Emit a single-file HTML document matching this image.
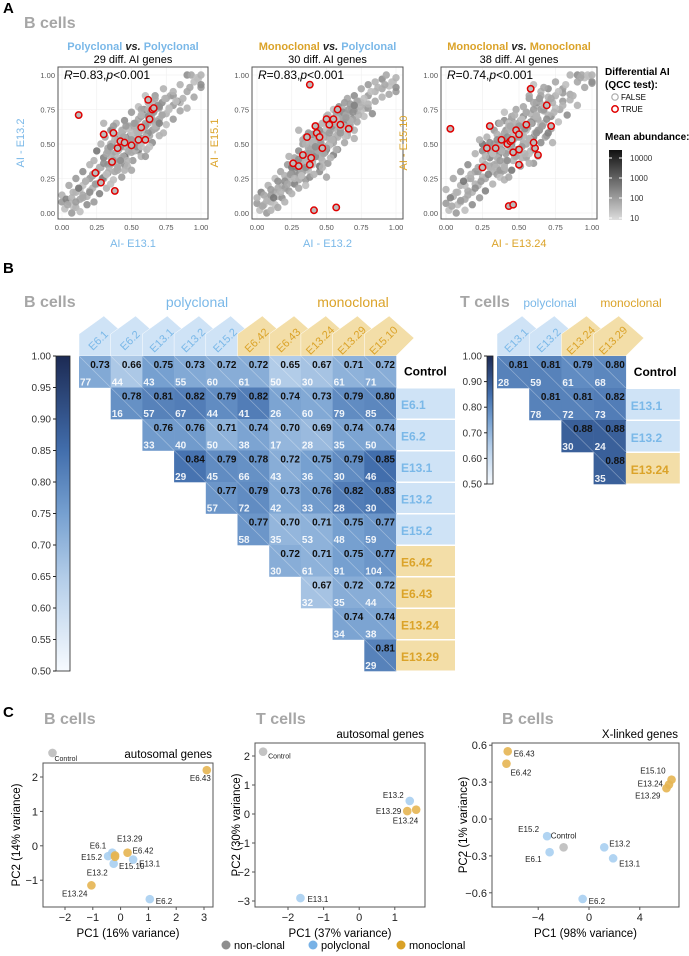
<!DOCTYPE html>
<html><head><meta charset="utf-8"><style>
body{margin:0;background:#fff;}
svg{display:block;font-family:"Liberation Sans",Arial,sans-serif;}
</style></head><body>
<svg id="fig" width="689" height="956" viewBox="0 0 689 956"></svg>
<script>
// ---------- DATA ----------
const scatterX = [0.02,0.05,0.08,0.1,0.13,0.15,0.18,0.2,0.22,0.25,0.27,0.3,0.32,0.33,0.35,0.36,0.38,0.4,0.41,0.42,0.44,0.45,0.46,0.48,0.5,0.5,0.52,0.53,0.55,0.56,0.58,0.6,0.6,0.62,0.64,0.65,0.67,0.7,0.72,0.75,0.78,0.8,0.85,0.9,0.95,0.98,0.35,0.45,0.55,0.65,0.28,0.38,0.48,0.58,0.68,0.42,0.52,0.62,0.3,0.4];
const scatterY1 = [0.03,0.08,0.05,0.15,0.1,0.2,0.12,0.25,0.18,0.3,0.22,0.4,0.28,0.45,0.35,0.5,0.3,0.45,0.55,0.38,0.6,0.48,0.42,0.55,0.5,0.62,0.45,0.58,0.68,0.5,0.6,0.55,0.72,0.65,0.7,0.6,0.75,0.68,0.8,0.72,0.85,0.78,0.8,0.88,0.95,0.97,0.6,0.35,0.45,0.8,0.33,0.42,0.5,0.52,0.62,0.52,0.56,0.7,0.25,0.35];
const scatterY2 = [0.02,0.06,0.1,0.08,0.15,0.12,0.2,0.18,0.25,0.22,0.3,0.28,0.35,0.3,0.4,0.32,0.45,0.38,0.5,0.42,0.48,0.52,0.4,0.58,0.46,0.55,0.6,0.5,0.62,0.66,0.55,0.7,0.6,0.68,0.72,0.64,0.7,0.78,0.74,0.8,0.76,0.85,0.88,0.9,0.92,0.95,0.55,0.3,0.65,0.58,0.36,0.48,0.44,0.6,0.75,0.52,0.5,0.66,0.24,0.45];
const scatterY3 = [0.02,0.12,0.06,0.2,0.1,0.25,0.15,0.3,0.2,0.38,0.25,0.45,0.3,0.5,0.35,0.42,0.55,0.35,0.6,0.45,0.5,0.62,0.38,0.55,0.65,0.45,0.58,0.7,0.5,0.62,0.72,0.55,0.68,0.78,0.6,0.75,0.65,0.8,0.7,0.85,0.75,0.9,0.82,0.95,0.98,0.99,0.28,0.68,0.4,0.88,0.48,0.3,0.6,0.45,0.55,0.6,0.4,0.8,0.4,0.52];
const scatterShade = [0.2,0.3,0.2,0.3,0.4,0.2,0.3,0.5,0.3,0.2,0.4,0.6,0.3,0.5,0.3,0.7,0.4,0.3,0.5,0.2,0.6,0.4,0.3,0.5,0.8,0.4,0.3,0.6,0.4,0.5,0.3,0.7,0.4,0.3,0.6,0.5,0.3,0.4,0.6,0.3,0.4,0.5,0.3,0.4,0.2,0.2,0.5,0.6,0.4,0.3,0.4,0.5,0.6,0.3,0.4,0.5,0.3,0.6,0.4,0.3];
const red1X = [0.12,0.3,0.37,0.4,0.42,0.45,0.5,0.55,0.57,0.6,0.62,0.65,0.66,0.63,0.24,0.28,0.36,0.38];
const red1Y = [0.71,0.57,0.58,0.47,0.52,0.51,0.49,0.53,0.62,0.53,0.82,0.75,0.76,0.68,0.29,0.22,0.37,0.16];
const red2X = [0.38,0.26,0.33,0.36,0.39,0.42,0.43,0.45,0.47,0.5,0.52,0.55,0.58,0.6,0.66,0.3,0.38,0.41,0.57];
const red2Y = [0.93,0.36,0.42,0.55,0.4,0.63,0.58,0.55,0.47,0.68,0.64,0.68,0.75,0.64,0.61,0.34,0.35,0.02,0.04];
const red3X = [0.03,0.3,0.28,0.34,0.38,0.42,0.44,0.45,0.46,0.48,0.5,0.5,0.55,0.58,0.61,0.6,0.63,0.69,0.72,0.5,0.25,0.43,0.46];
const red3Y = [0.61,0.63,0.47,0.47,0.53,0.5,0.52,0.53,0.44,0.6,0.57,0.46,0.64,0.9,0.47,0.51,0.42,0.78,0.63,0.35,0.33,0.05,0.06];

const bCols = ["E6.1","E6.2","E13.1","E13.2","E15.2","E6.42","E6.43","E13.24","E13.29","E15.10"];
const bColType = ["p","p","p","p","p","m","m","m","m","m"];
const bRows = ["Control","E6.1","E6.2","E13.1","E13.2","E15.2","E6.42","E6.43","E13.24","E13.29"];
const bRowType = ["c","p","p","p","p","p","m","m","m","m"];
const bVals = [
 [0.73,0.66,0.75,0.73,0.72,0.72,0.65,0.67,0.71,0.72],
 [0.78,0.81,0.82,0.79,0.82,0.74,0.73,0.79,0.80],
 [0.76,0.76,0.71,0.74,0.70,0.69,0.74,0.74],
 [0.84,0.79,0.78,0.72,0.75,0.79,0.85],
 [0.77,0.79,0.73,0.76,0.82,0.83],
 [0.77,0.70,0.71,0.75,0.77],
 [0.72,0.71,0.75,0.77],
 [0.67,0.72,0.72],
 [0.74,0.74],
 [0.81]];
const bCounts = [
 [77,44,43,55,60,61,50,30,61,71],
 [16,57,67,44,41,26,60,79,85],
 [33,40,50,38,17,28,35,50],
 [29,45,66,43,36,30,46],
 [57,72,42,33,28,30],
 [58,35,53,48,59],
 [30,61,91,104],
 [32,35,44],
 [34,38],
 [29]];
const tCols = ["E13.1","E13.2","E13.24","E13.29"];
const tColType = ["p","p","m","m"];
const tRows = ["Control","E13.1","E13.2","E13.24"];
const tRowType = ["c","p","p","m"];
const tVals = [[0.81,0.81,0.79,0.80],[0.81,0.81,0.82],[0.88,0.88],[0.88]];
const tCounts = [[28,59,61,68],[78,72,73],[30,24],[35]];
const bBarTicks = ["1.00","0.95","0.90","0.85","0.80","0.75","0.70","0.65","0.60","0.55","0.50"];
const tBarTicks = ["1.00","0.90","0.80","0.70","0.60","0.50"];

const pca1Names = ["Control","E6.43","E6.1","E15.2","E13.2","E15.10","E13.29","E6.42","E13.1","E13.24","E6.2"];
const pca1Type = ["c","m","p","p","p","m","m","m","p","m","p"];
const pca1X = [-2.45,3.1,-0.3,-0.45,-0.25,-0.2,-0.2,0.25,0.45,-1.05,1.05];
const pca1Y = [2.7,2.2,-0.2,-0.3,-0.52,-0.32,-0.28,-0.2,-0.4,-1.15,-1.55];
const pca2Names = ["Control","E13.2","E13.29","E13.24","E13.1"];
const pca2Type = ["c","p","m","m","p"];
const pca2X = [-2.7,1.42,1.35,1.6,-1.65];
const pca2Y = [2.15,0.45,0.1,0.15,-2.9];
const pca3Names = ["E6.43","E6.42","E15.10","E13.24","E13.29","E15.2","E6.1","Control","E13.2","E13.1","E6.2"];
const pca3Type = ["m","m","m","m","m","p","p","c","p","p","p"];
const pca3X = [-6.4,-6.5,6.5,6.3,6.1,-3.3,-3.1,-2.0,1.2,1.9,-0.5];
const pca3Y = [0.55,0.45,0.32,0.28,0.25,-0.14,-0.27,-0.23,-0.23,-0.32,-0.65];

// ---------- HELPERS ----------
const NS="http://www.w3.org/2000/svg";
const svg=document.getElementById('fig');
function mk(tag,attrs,parent,txt){const e=document.createElementNS(NS,tag);for(const k in attrs)e.setAttribute(k,attrs[k]);if(txt!==undefined)e.textContent=txt;(parent||svg).appendChild(e);return e;}
function T(x,y,s,opt,parent){const o=Object.assign({x:x,y:y,'font-size':10,fill:'#000'},opt||{});const e=mk('text',o,parent,s);return e;}
const BLUE='#7ab8e8', ORANGE='#dba329', GRAY='#a6a6a6';
function lerp(a,b,t){return a+(b-a)*t;}
function heatColor(v){
  const stops=[[0.5,[247,251,255]],[0.65,[178,204,232]],[0.75,[118,160,208]],[0.85,[66,110,172]],[1.0,[28,42,84]]];
  for(let i=0;i<stops.length-1;i++){const a=stops[i],b=stops[i+1];if(v<=b[0]){const t=Math.max(0,(v-a[0])/(b[0]-a[0]));return 'rgb('+a[1].map((c,j)=>Math.round(lerp(c,b[1][j],t))).join(',')+')';}}
  return 'rgb(28,42,84)';
}
function panelLetter(s,x,y){const e=T(x,y,s,{'font-size':15,'font-weight':'bold'});}
function grayTitle(s,x,y,name){const e=T(x,y,s,{'font-size':16,'font-weight':'bold',fill:'#a6a6a6'});}

// ---------- PANEL A ----------
panelLetter('A',3,13);
grayTitle('B cells',24,28,'panel-a-title');
const panelsA=[
 {bx0:58,bx1:208,x0:62,x1:201,t1:['Polyclonal',BLUE],t2:['Polyclonal',BLUE],sub:'29 diff. AI genes',r:'0.83',ylab:'AI - E13.2',ycol:BLUE,xlab:'AI- E13.1',xcol:BLUE,ys:scatterY1,rx:red1X,ry:red1Y},
 {bx0:252,bx1:403,x0:257,x1:396,t1:['Monoclonal',ORANGE],t2:['Polyclonal',BLUE],sub:'30 diff. AI genes',r:'0.83',ylab:'AI - E15.1',ycol:ORANGE,xlab:'AI - E13.2',xcol:BLUE,ys:scatterY2,rx:red2X,ry:red2Y},
 {bx0:441,bx1:597,x0:446,x1:592,t1:['Monoclonal',ORANGE],t2:['Monoclonal',ORANGE],sub:'38 diff. AI genes',r:'0.74',ylab:'AI - E15.10',ycol:ORANGE,xlab:'AI - E13.24',xcol:ORANGE,ys:scatterY3,rx:red3X,ry:red3Y}];
const layerShift=[[0,0,0],[0.05,-0.04,7],[-0.05,0.05,13],[0.02,0.03,21]];
panelsA.forEach((p,pi)=>{
  const g=mk('g',{});
  
  
  const by0=67,by1=219, yb0=213, yb1=75;
  const sx=v=>p.x0+(p.x1-p.x0)*Math.max(0,Math.min(1,v)), sy=v=>yb0+(yb1-yb0)*Math.max(0,Math.min(1,v));
  const cx=(p.bx0+p.bx1)/2;
  const tt=mk('text',{x:cx,y:50,'text-anchor':'middle','font-size':11,'font-weight':'bold'},g);
  
  
  mk('tspan',{fill:p.t1[1]},tt,p.t1[0]);mk('tspan',{fill:'#222','font-style':'italic'},tt,' vs. ');mk('tspan',{fill:p.t2[1]},tt,p.t2[0]);
  const st=T(cx,63,p.sub,{'text-anchor':'middle','font-size':11},g);
  
  
  [0,0.25,0.5,0.75,1].forEach(v=>{mk('line',{x1:sx(v),x2:sx(v),y1:by0,y2:by1,stroke:'#eee','stroke-width':0.6},g);mk('line',{x1:p.bx0,x2:p.bx1,y1:sy(v),y2:sy(v),stroke:'#eee','stroke-width':0.6},g);});
  layerShift.forEach(L=>{
    scatterX.forEach((x,i)=>{const c=Math.round(lerp(215,95,scatterShade[(i+L[2])%scatterShade.length]));
      const d=mk('circle',{cx:sx(x+L[0]),cy:sy(p.ys[i]+L[1]),r:3.7,fill:'rgb('+c+','+c+','+c+')','fill-opacity':0.9},g);
      
      });
  });
  p.rx.forEach((x,i)=>{const d=mk('circle',{cx:sx(x),cy:sy(p.ry[i]),r:3.2,fill:'#bbb',stroke:'#e00000','stroke-width':1.5},g);
    
    });
  mk('rect',{x:p.bx0,y:by0,width:p.bx1-p.bx0,height:by1-by0,fill:'none',stroke:'#555','stroke-width':1},g);
  const rt=mk('text',{x:p.bx0+6,y:by0+12,'font-size':12},g);
  
  
  mk('tspan',{'font-style':'italic'},rt,'R');mk('tspan',{},rt,'=0.'+p.r.slice(2)+',');mk('tspan',{'font-style':'italic'},rt,'p');mk('tspan',{},rt,'<0.001');
  [0,0.25,0.5,0.75,1].forEach(v=>{const l=['0.00','0.25','0.50','0.75','1.00'][v*4];
    T(p.bx0-3,sy(v)+3,l,{'text-anchor':'end','font-size':7.5,fill:'#555'},g);
    T(sx(v),by1+11,l,{'text-anchor':'middle','font-size':7.5,fill:'#555'},g);});
  const xl=T(cx,247,p.xlab,{'text-anchor':'middle','font-size':11,fill:p.xcol},g);
  
  
  const yl=T(0,0,p.ylab,{'text-anchor':'middle','font-size':11,fill:p.ycol,transform:'translate('+(p.bx0-34)+','+((by0+by1)/2)+') rotate(-90)'},g);
  
  
});
const lg=mk('g',{});


T(605,75,'Differential AI',{'font-size':10,'font-weight':'bold'},lg);
T(605,88,'(QCC test):',{'font-size':10,'font-weight':'bold'},lg);
mk('circle',{cx:615,cy:97,r:3.2,fill:'none',stroke:'#aaa','stroke-width':1.2},lg);T(621,100,'FALSE',{'font-size':8},lg);
mk('circle',{cx:615,cy:109,r:3.2,fill:'none',stroke:'#e00000','stroke-width':1.5},lg);T(621,112,'TRUE',{'font-size':8},lg);
T(605,140,'Mean abundance:',{'font-size':10,'font-weight':'bold'},lg);
const defs=mk('defs',{});
const gr=mk('linearGradient',{id:'abund',x1:0,y1:0,x2:0,y2:1},defs);
mk('stop',{offset:'0','stop-color':'#111'},gr);mk('stop',{offset:'1','stop-color':'#ddd'},gr);
mk('rect',{x:609,y:150,width:13,height:70,fill:'url(#abund)'},lg);
[['10000',158],['1000',178],['100',198],['10',218]].forEach(a=>{T(630,a[1]+3,a[0],{'font-size':8,fill:'#333'},lg);mk('line',{x1:609,x2:612,y1:a[1],y2:a[1],stroke:'#fff'},lg);mk('line',{x1:619,x2:622,y1:a[1],y2:a[1],stroke:'#fff'},lg);});

// ---------- PANEL B ----------
panelLetter('B',3,273);
grayTitle('B cells',24,307,'b-cells-heatmap-title');
grayTitle('T cells',460,307,'t-cells-heatmap-title');
function heatmap(cfg){
  const g=mk('g',{});
  
  
  const {x0,y0,w,h,cols,colType,rows,rowType,vals,counts}=cfg;
  cols.forEach((c,i)=>{
    const cx=x0+i*w, fill=colType[i]==='p'?'#cfe3f6':'#f3dea8', tc=colType[i]==='p'?BLUE:ORANGE;
    const hg=mk('g',{},g);
    
    
    mk('polygon',{points:[[cx,y0],[cx+w,y0],[cx+w+18,y0-18],[cx+w/2+9,y0-40],[cx,y0-22]].map(p=>p.join(',')).join(' '),fill:fill,stroke:'#fff','stroke-width':0.5},hg);
    T(0,0,c,{'font-size':11,fill:tc,'text-anchor':'middle',transform:'translate('+(cx+w/2+6)+','+(y0-13)+') rotate(-45)'},hg);
  });
  rows.forEach((r,ri)=>{
    vals[ri].forEach((v,k)=>{
      const ci=ri+k, x=x0+ci*w, y=y0+ri*h;
      const cell=mk('rect',{x:x,y:y,width:w+0.3,height:h+0.3,fill:heatColor(v)},g);
      
      
      mk('line',{x1:x,y1:y,x2:x+w,y2:y+h,stroke:'#fff','stroke-opacity':0.35,'stroke-width':0.7},g);
      T(x+w-1,y+12,v.toFixed(2),{'text-anchor':'end','font-size':10,'font-weight':'bold',fill:'#111'},g);
      T(x+1,y+h-2,String(counts[ri][k]),{'font-size':10,fill:'#fff','font-weight':'bold','fill-opacity':0.9},g);
    });
    const ry=y0+ri*h, lx=x0+cols.length*w;
    if(rowType[ri]==='c'){const e=T(lx+8,ry+h*0.62,r,{'font-size':12,'font-weight':'bold'},g);
      
      }
    else{const fill=rowType[ri]==='p'?'#cfe3f6':'#f3dea8', tc=rowType[ri]==='p'?BLUE:ORANGE;
      const rb=mk('rect',{x:lx,y:ry+1,width:cfg.lw,height:h-1.5,fill:fill},g);
      
      
      T(lx+5,ry+h*0.68,r,{'font-size':12,'font-weight':'bold',fill:tc},g);}
  });
  const cb=cfg.cb, id='cb'+cfg.name;
  const lgd=mk('linearGradient',{id:id,x1:0,y1:0,x2:0,y2:1},defs);
  for(let i=0;i<=10;i++){mk('stop',{offset:i/10,'stop-color':heatColor(1-0.05*i)},lgd);}
  const bar=mk('rect',{x:cb.x,y:y0,width:cb.w,height:cb.h,fill:'url(#'+id+')',stroke:'#222','stroke-width':0.8},g);
  
  
  cb.ticks.forEach((t,i)=>{const y=y0+cb.h*i/(cb.ticks.length-1);
    mk('line',{x1:cb.x-3,x2:cb.x,y1:y,y2:y,stroke:'#222'},g);
    T(cb.x-5,y+3.5,t,{'text-anchor':'end','font-size':10,fill:'#333'},g);});
}
heatmap({name:'b-cells-heatmap',x0:79,y0:356,w:31.7,h:31.5,cols:bCols,colType:bColType,rows:bRows,rowType:bRowType,vals:bVals,counts:bCounts,lw:59,cb:{x:56,w:14,h:315,ticks:bBarTicks}});
heatmap({name:'t-cells-heatmap',x0:497,y0:356,w:32.2,h:32,cols:tCols,colType:tColType,rows:tRows,rowType:tRowType,vals:tVals,counts:tCounts,lw:54,cb:{x:487,w:6,h:128,ticks:tBarTicks}});
T(197,307,'polyclonal',{'text-anchor':'middle','font-size':14,fill:BLUE});
T(353,307,'monoclonal',{'text-anchor':'middle','font-size':14,fill:ORANGE});
T(550,307,'polyclonal',{'text-anchor':'middle','font-size':12,fill:BLUE});
T(631,307,'monoclonal',{'text-anchor':'middle','font-size':12,fill:ORANGE});

// ---------- PANEL C ----------
panelLetter('C',3,717);
grayTitle('B cells',44,724,'pca-b-autosomal-title');
grayTitle('T cells',256,724,'pca-t-autosomal-title');
grayTitle('B cells',502,724,'pca-b-xlinked-title');
const typeCol={c:'#bdbdbd',p:'#a9cff1',m:'#e5b552'};
function pca(cfg){
  const g=mk('g',{});
  
  
  const sx=v=>cfg.xa+(v-cfg.xv)*cfg.xs, sy=v=>cfg.ya-(v-cfg.yv)*cfg.ys;
  T(cfg.bx1-1,cfg.by0-5,cfg.title,{'text-anchor':'end','font-size':11.5},g);
  mk('rect',{x:cfg.bx0,y:cfg.by0,width:cfg.bx1-cfg.bx0,height:cfg.by1-cfg.by0,fill:'none',stroke:'#555','stroke-width':1},g);
  cfg.xt.forEach(t=>{const x=sx(parseFloat(t.replace('−','-')));mk('line',{x1:x,x2:x,y1:cfg.by1,y2:cfg.by1+3,stroke:'#555'},g);T(x,cfg.by1+14,t,{'text-anchor':'middle','font-size':11,fill:'#222'},g);});
  cfg.yt.forEach(t=>{const y=sy(parseFloat(t.replace('−','-')));mk('line',{x1:cfg.bx0-3,x2:cfg.bx0,y1:y,y2:y,stroke:'#555'},g);T(cfg.bx0-5,y+4,t,{'text-anchor':'end','font-size':11,fill:'#222'},g);});
  const xl=T((cfg.bx0+cfg.bx1)/2,cfg.by1+30,cfg.xlab,{'text-anchor':'middle','font-size':11.5},g);
  
  
  const yl=T(0,0,cfg.ylab,{'text-anchor':'middle','font-size':11.5,transform:'translate('+cfg.ylx+','+((cfg.by0+cfg.by1)/2)+') rotate(-90)'},g);
  
  
  cfg.names.forEach((n,i)=>{
    const x=sx(cfg.X[i]), y=sy(cfg.Y[i]);
    const d=mk('circle',{cx:x,cy:y,r:4.3,fill:typeCol[cfg.type[i]],'fill-opacity':0.9},g);
    
    
    const o=cfg.lab[n]||[6,4,'start'];
    T(x+o[0],y+o[1],n,{'font-size':n==='Control'&&cfg.name!=='pca-b-xlinked'?7:8,'text-anchor':o[2],fill:'#222'},g);
  });
}
pca({name:'pca-b-autosomal',bx0:43,bx1:213,by0:763,by1:907,xa:65,xv:-2,xs:27.8,ya:777,yv:2,ys:34.4,xt:['−2','−1','0','1','2','3'],yt:['−1','0','1','2'],
  xlab:'PC1 (16% variance)',ylab:'PC2 (14% variance)',ylx:20,title:'autosomal genes',names:pca1Names,type:pca1Type,X:pca1X,Y:pca1Y,
  lab:{'Control':[2,8,'start'],'E6.43':[4,11,'end'],'E6.1':[-6,-4,'end'],'E15.2':[-6,4,'end'],'E13.2':[-6,12,'end'],'E15.10':[4,12,'start'],'E13.29':[2,-14,'start'],'E6.42':[5,1,'start'],'E13.1':[6,7,'start'],'E13.24':[-4,11,'end'],'E6.2':[6,5,'start']}});
pca({name:'pca-t-autosomal',bx0:255,bx1:425,by0:743,by1:907,xa:288,xv:-2,xs:35.6,ya:756,yv:2,ys:29,xt:['−2','−1','0','1'],yt:['−3','−2','−1','0','1','2'],
  xlab:'PC1 (37% variance)',ylab:'PC2 (30% variance)',ylx:240,title:'autosomal genes',names:pca2Names,type:pca2Type,X:pca2X,Y:pca2Y,
  lab:{'Control':[5,7,'start'],'E13.2':[-6,-3,'end'],'E13.29':[-6,3,'end'],'E13.24':[2,14,'end'],'E13.1':[7,4,'start']}});
pca({name:'pca-b-xlinked',bx0:492,bx1:679,by0:743,by1:907,xa:589,xv:0,xs:12.7,ya:819,yv:0,ys:123,xt:['−4','0','4'],yt:['−0.6','−0.3','0.0','0.3','0.6'],
  xlab:'PC1 (98% variance)',ylab:'PC2 (1% variance)',ylx:467,title:'X-linked genes',names:pca3Names,type:pca3Type,X:pca3X,Y:pca3Y,
  lab:{'E6.43':[6,5,'start'],'E6.42':[4,12,'start'],'E15.10':[-6,-6,'end'],'E13.24':[-6,2,'end'],'E13.29':[-6,10,'end'],'E15.2':[-8,-4,'end'],'E6.1':[-8,10,'end'],'Control':[0,-9,'middle'],'E13.2':[5,-1,'start'],'E13.1':[6,8,'start'],'E6.2':[6,5,'start']}});
const lc=mk('g',{});


[['non-clonal','#8e8e8e',226],['polyclonal','#78b2e6',313],['monoclonal','#d9a126',401]].forEach(a=>{
  mk('circle',{cx:a[2],cy:945,r:4.5,fill:a[1]},lc);T(a[2]+8,949,a[0],{'font-size':11},lc);});
</script>
</body></html>
